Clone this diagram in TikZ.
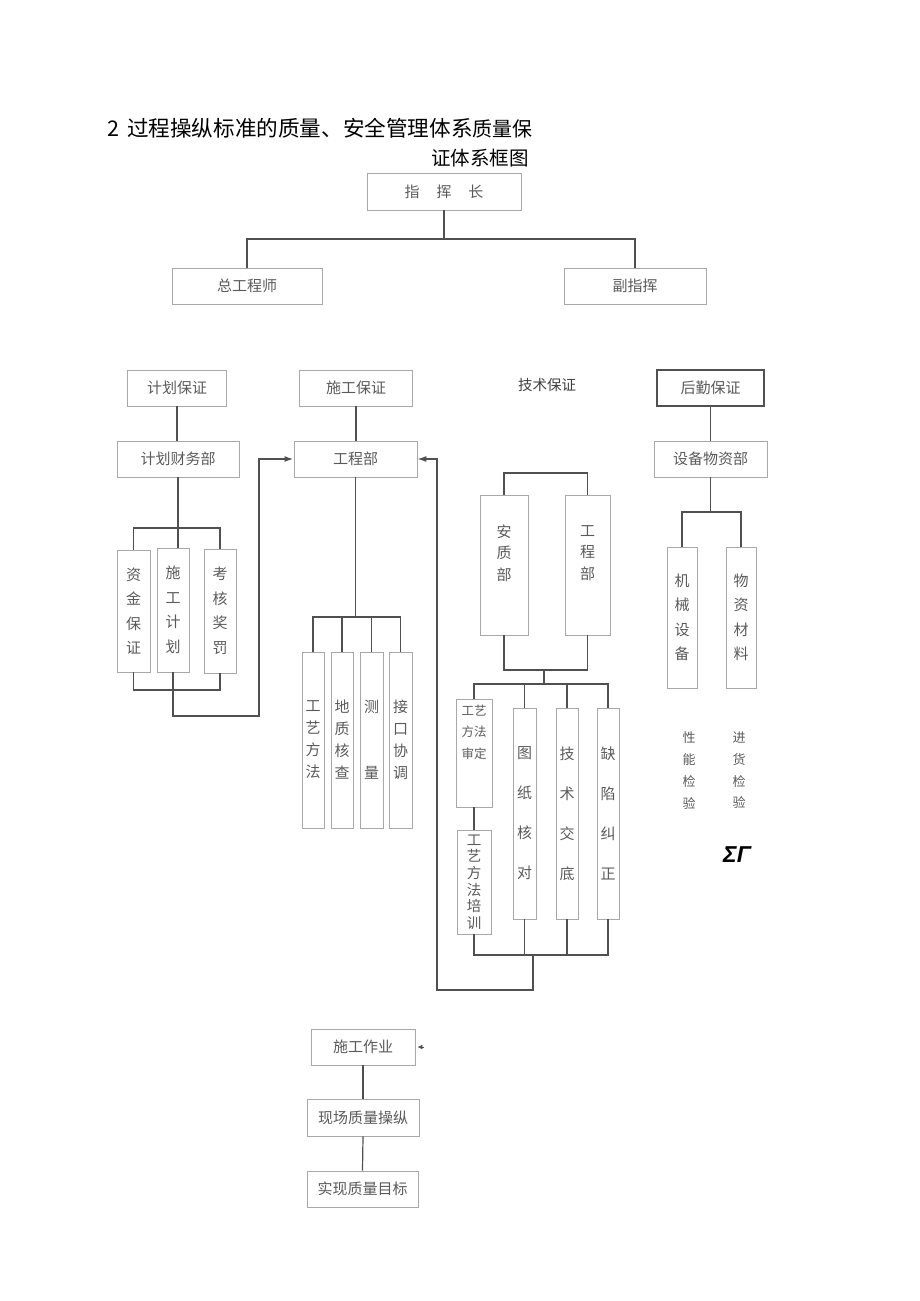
\documentclass[tikz,border=0pt]{standalone}
\usepackage{fontspec}
\setmainfont{Noto Sans CJK SC}
\newfontfamily\greekfont{Liberation Sans}
\usetikzlibrary{arrows.meta,positioning}
\definecolor{linegray}{HTML}{505050}
\definecolor{boxgray}{HTML}{A8A8A8}
\definecolor{txtgray}{HTML}{5A5A5A}
\tikzset{
  box/.style={draw=boxgray, line width=0.9pt, text=txtgray, inner sep=0pt, align=center,
    font=\fontsize{15}{24}\selectfont},
  vbox/.style={box, font=\fontsize{15}{24.5}\selectfont},
  vtext/.style={text=txtgray, inner sep=0pt, align=center},
  link/.style={draw=linegray, line width=1.2pt},
  back/.style={link, line width=1.7pt, -{Latex[length=9pt,width=6pt]}},
}
\begin{document}
\begin{tikzpicture}[x=1pt,y=-1pt]
\useasboundingbox (0,0) rectangle (920,1301);
% title
\node[anchor=west, inner sep=0pt] (title1) at (107,128)
  {\fontsize{21.6}{24}\selectfont 2\hspace{3pt} 过程操纵标准的质量、安全管理体系\fontsize{20}{24}\selectfont 质量保};
\node[anchor=east, inner sep=0pt] (title2) at (529,158) {\fontsize{19.5}{24}\selectfont 证体系框图};

% top
\node[box, minimum width=154pt, minimum height=37pt] (zhz) at (444,191.5) {指\hspace{17pt}挥\hspace{17pt}长};
\node[box, minimum width=150pt, minimum height=36pt] (zgcs) at (247,286) {总工程师};
\node[box, minimum width=142pt, minimum height=36pt] (fzh) at (635,286) {副指挥};
\coordinate (hbar) at (0,239);
\draw[link] (zhz.south) -- (zhz.south |- hbar);
\draw[link] (zgcs.north) |- (fzh.north |- hbar) -- (fzh.north);

% guarantee heads
\node[box, minimum width=99pt, minimum height=36pt] (jhbz) at (177,388) {计划保证};
\node[box, minimum width=113pt, minimum height=36pt] (sgbz) at (356,388) {施工保证};
\node[vtext, text=black!75, font=\fontsize{14.5}{20}\selectfont] (jsbz) at (547,385) {技术保证};
\node[box, draw=linegray, line width=1.4pt, minimum width=107pt, minimum height=36pt] (hqbz) at (710.5,388) {后勤保证};

\node[box, minimum width=122pt, minimum height=36pt] (jhcw) at (178,459) {计划财务部};
\node[box, minimum width=123pt, minimum height=36pt] (gcb) at (355.5,459) {工程部};
\node[box, minimum width=113pt, minimum height=36pt] (sbwz) at (710.5,459) {设备物资部};
\draw[link] (jhbz.south) -- (jhbz.south |- jhcw.north);
\draw[link] (sgbz.south) -- (sgbz.south |- gcb.north);
\draw[link] (hqbz.south) -- (sbwz.north);

% plan column
\node[vbox, minimum width=33pt, minimum height=122pt] (zjbz) at (133.5,611) {资\\金\\保\\证};
\node[vbox, minimum width=32pt, minimum height=124pt] (sgjh) at (173,610) {施\\工\\计\\划};
\node[vbox, minimum width=32pt, minimum height=124pt] (khjf) at (220,611) {考\\核\\奖\\罚};
\coordinate (lbr) at (0,528);
\coordinate (lbb) at (0,690);
\coordinate (lturn) at (259,716);
\draw[link] (jhcw.south) -- (jhcw.south |- sgjh.north);
\draw[link] (zjbz.north) |- (khjf.north |- lbr) -- (khjf.north);
\draw[link] (zjbz.south) |- (khjf.south |- lbb) -- (khjf.south);
\draw[back] (sgjh.south) |- (lturn) |- (gcb.west);

% works column
\node[vbox, minimum width=22pt, minimum height=176pt, font=\fontsize{15}{22}\selectfont] (gyff) at (313,740) {工\\艺\\方\\法};
\node[vbox, minimum width=22pt, minimum height=176pt, font=\fontsize{15}{22}\selectfont] (dzhc) at (342,740) {地\\质\\核\\查};
\node[vbox, minimum width=23pt, minimum height=176pt, font=\fontsize{15}{22}\selectfont] (cl) at (371.5,740) {测\\[44pt]量};
\node[vbox, minimum width=23pt, minimum height=176pt, font=\fontsize{15}{22}\selectfont] (jkxt) at (400.5,740) {接\\口\\协\\调};
\coordinate (gbr) at (0,617);
\draw[link] (gcb.south) -- (gcb.south |- gbr);
\draw[link] (gyff.north) |- (jkxt.north |- gbr) -- (jkxt.north);
\draw[link] (dzhc.north) -- (dzhc.north |- gbr);
\draw[link] (cl.north) -- (cl.north |- gbr);

% technical column
\node[box, minimum width=48pt, minimum height=140pt] (azb) at (504,565) {};
\node[vtext, font=\fontsize{15}{21.5}\selectfont] (azbt) at ([yshift=12pt]azb.center) {安\\质\\部};
\node[box, minimum width=45pt, minimum height=140pt] (gcb2) at (587.5,565) {};
\node[vtext, font=\fontsize{15}{21.5}\selectfont] (gcb2t) at ([yshift=12pt]gcb2.center) {工\\程\\部};
\coordinate (tbr) at (0,473);
\coordinate (tbb) at (0,670);
\coordinate (tmid) at (544,670);
\coordinate (tbr2) at (0,684);
\draw[link] (azb.north) |- (gcb2.north |- tbr) -- (gcb2.north);
\draw[link] (azb.south) |- (gcb2.south |- tbb) -- (gcb2.south);
\draw[link] (tmid) -- (tmid |- tbr2);

\node[box, minimum width=36pt, minimum height=108pt] (gysd) at (474,753) {};
\node[vtext, anchor=north, font=\fontsize{12.5}{21.5}\selectfont] (gysdt) at ([yshift=-6pt]gysd.north) {工艺\\方法\\审定};
\node[vbox, minimum width=34pt, minimum height=104pt, font=\fontsize{14.5}{16.6}\selectfont] (gypx) at (474,882) {工\\艺\\方\\法\\培\\训};
\node[vbox, minimum width=23pt, minimum height=211pt, font=\fontsize{15}{40}\selectfont] (tzhd) at (524.5,813.5) {图\\纸\\核\\对};
\node[vbox, minimum width=22pt, minimum height=211pt, font=\fontsize{15}{40}\selectfont] (jsjd) at (567,813.5) {技\\术\\交\\底};
\node[vbox, minimum width=22pt, minimum height=211pt, font=\fontsize{15}{40}\selectfont] (qxjz) at (608,813.5) {缺\\陷\\纠\\正};
\draw[link] (gysd.north) |- (qxjz.north |- tbr2) -- (qxjz.north);
\draw[link] (tzhd.north) -- (tzhd.north |- tbr2);
\draw[link] (jsjd.north) -- (jsjd.north |- tbr2);
\draw[link] (gysd.south) -- (gypx.north);
\coordinate (tbb2) at (0,955);
\coordinate (fb) at (533,955);
\coordinate (fbl) at (437,990);
\draw[link] (gypx.south) |- (qxjz.south |- tbb2) -- (qxjz.south);
\draw[link] (tzhd.south) -- (tzhd.south |- tbb2);
\draw[link] (jsjd.south) -- (jsjd.south |- tbb2);
\draw[link, -{Latex[length=9pt,width=6pt]}] (fb) |- (fbl) |- (gcb.east);

% logistics column
\node[vbox, minimum width=30pt, minimum height=141pt] (jxsb) at (682,617.5) {机\\械\\设\\备};
\node[vbox, minimum width=30pt, minimum height=141pt] (wzcl) at (741,617.5) {物\\资\\材\\料};
\coordinate (rbr) at (0,512);
\draw[link] (sbwz.south) -- (sbwz.south |- rbr);
\draw[link] (jxsb.north) |- (wzcl.north |- rbr) -- (wzcl.north);
\node[vtext, font=\fontsize{13}{21.7}\selectfont] (xnjy) at (689,770.5) {性\\能\\检\\验};
\node[vtext, font=\fontsize{13}{21.7}\selectfont] (jhjy) at (739,770.5) {进\\货\\检\\验};
\node[inner sep=0pt, font=\greekfont\bfseries\itshape\fontsize{23}{23}\selectfont] (sg) at (737,855) {ΣΓ};

% bottom chain
\node[box, minimum width=104pt, minimum height=36pt] (sgzy) at (363,1047) {施工作业};
\node[box, minimum width=112pt, minimum height=37pt] (xczl) at (363,1117.5) {现场质量操纵};
\node[box, minimum width=111pt, minimum height=36pt] (sxzl) at (362.5,1189) {实现质量目标};
\draw[link] (sgzy.south) -- (xczl.north);
\draw[link] (xczl.south) -- (sxzl.north);
\coordinate (tipc) at (424,1047);
\draw[link, line width=0.8pt, -{Latex[length=5pt,width=5pt]}] (tipc) -- ([xshift=2pt]sgzy.east);
\end{tikzpicture}
\end{document}
